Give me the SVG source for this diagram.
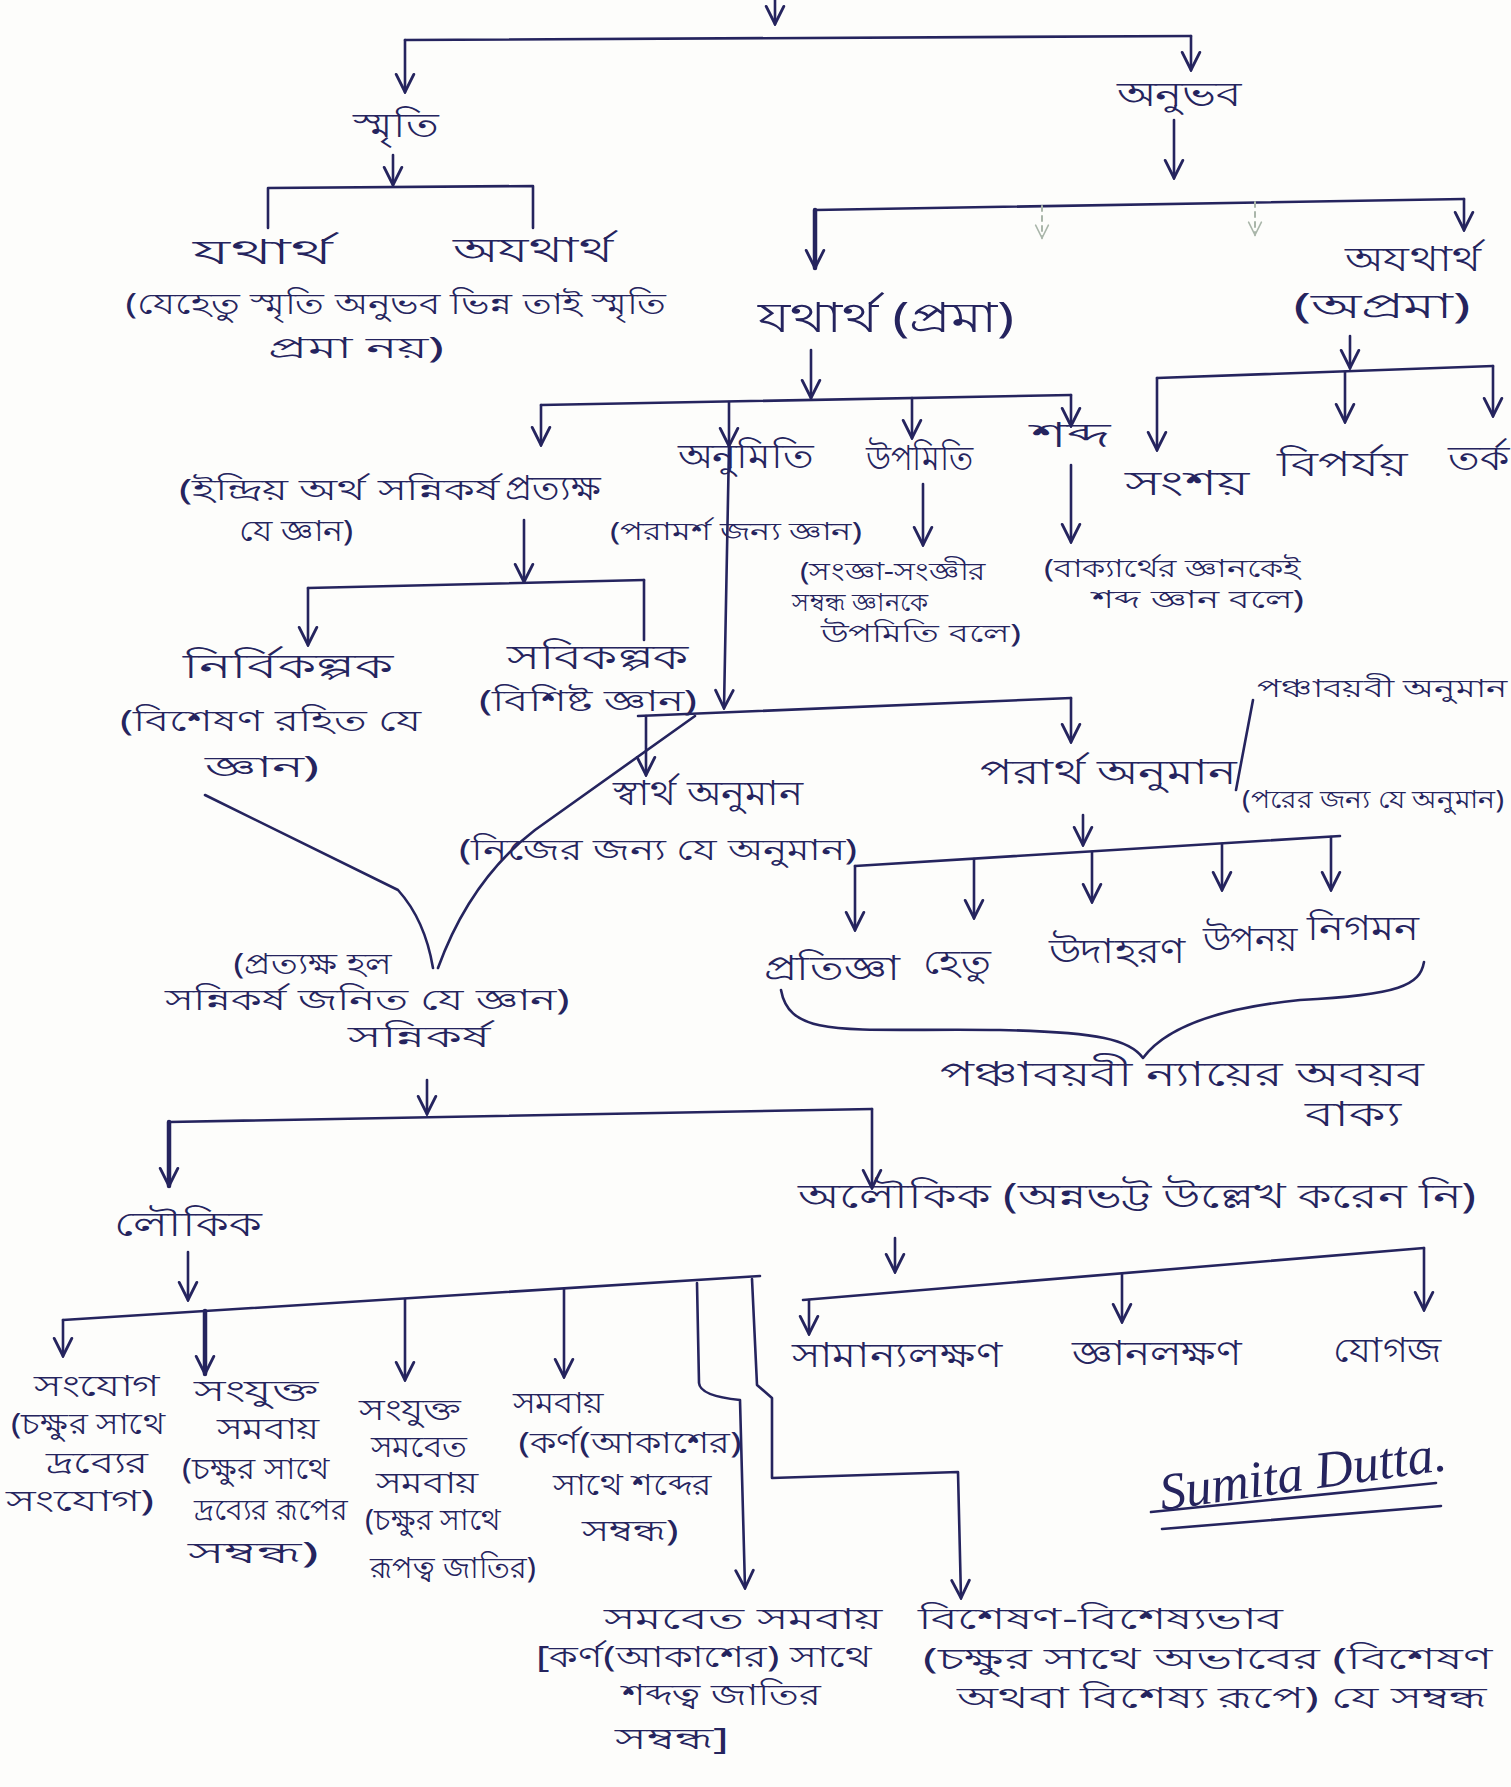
<svg xmlns="http://www.w3.org/2000/svg" width="1511" height="1787" viewBox="0 0 1511 1787">
<style>
text{font-family:"Noto Sans","DejaVu Sans",sans-serif;fill:#25245e;text-anchor:middle}
.t{font-size:34px}
.b{font-size:42px}
.n{font-size:29px}
.m{font-size:25px}
.s{font-size:25px}
.sig{font-family:"Liberation Serif",serif;font-style:italic;font-size:52px}
.c path,.c line{stroke:#25245e;stroke-width:2.6;fill:none;stroke-linecap:round;stroke-linejoin:round}
.c .a{marker-end:url(#ah)}
.c .w{stroke-width:4.5}
.c .f{stroke:#aab6aa;stroke-dasharray:5 5;stroke-width:2}
</style>
<defs>
<marker id="ah" viewBox="0 0 20 20" refX="18" refY="10" markerWidth="22" markerHeight="22" markerUnits="userSpaceOnUse" orient="auto">
<path d="M2,2 L18,10 L2,18" fill="none" stroke="#25245e" stroke-width="2.6" stroke-linecap="round"/>
</marker>
<marker id="af" viewBox="0 0 20 20" refX="18" refY="10" markerWidth="16" markerHeight="16" markerUnits="userSpaceOnUse" orient="auto">
<path d="M2,2 L18,10 L2,18" fill="none" stroke="#aab6aa" stroke-width="2" stroke-linecap="round"/>
</marker>
</defs>
<rect width="1511" height="1787" fill="#fdfdfb"/>
<g class="c" id="connectors">
<line class="a" x1="775" y1="0" x2="775" y2="24"/>
<line x1="405" y1="40" x2="1191" y2="36"/>
<line class="a" x1="405" y1="40" x2="405" y2="92"/>
<line class="a" x1="1191" y1="36" x2="1191" y2="70"/>
<line class="a" x1="393" y1="155" x2="393" y2="185"/>
<path d="M268,228 L268,188 L533,186 L533,228"/>
<line class="a" x1="1174" y1="120" x2="1174" y2="178"/>
<line x1="815" y1="210" x2="1464" y2="199"/>
<line class="a w" x1="815" y1="210" x2="815" y2="268"/>
<line class="f" x1="1042" y1="206" x2="1042" y2="238" marker-end="url(#af)"/>
<line class="f" x1="1255" y1="202" x2="1255" y2="235" marker-end="url(#af)"/>
<line class="a" x1="1464" y1="199" x2="1464" y2="230"/>
<line class="a" x1="811" y1="350" x2="811" y2="398"/>
<line x1="541" y1="405" x2="1071" y2="395"/>
<line class="a" x1="541" y1="405" x2="541" y2="445"/>
<line class="a" x1="729" y1="402" x2="729" y2="446"/>
<line class="a" x1="912" y1="398" x2="912" y2="438"/>
<line class="a" x1="1071" y1="395" x2="1071" y2="426"/>
<line class="a" x1="729" y1="446" x2="724" y2="708"/>
<line class="a" x1="1350" y1="336" x2="1350" y2="368"/>
<line x1="1157" y1="378" x2="1493" y2="366"/>
<line class="a" x1="1157" y1="378" x2="1157" y2="450"/>
<line class="a" x1="1345" y1="372" x2="1345" y2="422"/>
<line class="a" x1="1493" y1="366" x2="1493" y2="416"/>
<line class="a" x1="923" y1="484" x2="923" y2="545"/>
<line class="a" x1="1071" y1="465" x2="1071" y2="542"/>
<line class="a" x1="524" y1="520" x2="524" y2="582"/>
<line x1="308" y1="588" x2="644" y2="580"/>
<line class="a" x1="308" y1="588" x2="308" y2="645"/>
<line x1="644" y1="580" x2="644" y2="640"/>
<line x1="638" y1="716" x2="1071" y2="698"/>
<line class="a" x1="646" y1="716" x2="646" y2="775"/>
<line class="a" x1="1071" y1="698" x2="1071" y2="742"/>
<path d="M205,795 L398,890 Q425,920 433,968"/>
<path d="M695,716 L535,830 Q470,880 438,968"/>
<line x1="1236" y1="790" x2="1253" y2="700"/>
<line class="a" x1="1083" y1="815" x2="1083" y2="845"/>
<line x1="855" y1="866" x2="1340" y2="836"/>
<line class="a" x1="855" y1="866" x2="855" y2="930"/>
<line class="a" x1="974" y1="859" x2="974" y2="918"/>
<line class="a" x1="1092" y1="852" x2="1092" y2="902"/>
<line class="a" x1="1222" y1="844" x2="1222" y2="890"/>
<line class="a" x1="1331" y1="837" x2="1331" y2="890"/>
<path d="M781,990 C790,1040 850,1028 1000,1030 C1100,1032 1130,1040 1143,1058 C1160,1035 1200,1010 1300,1000 C1400,995 1420,985 1424,962"/>
<line class="a" x1="427" y1="1080" x2="427" y2="1114"/>
<line x1="169" y1="1122" x2="872" y2="1109"/>
<line class="a w" x1="169" y1="1122" x2="169" y2="1186"/>
<line class="a" x1="872" y1="1109" x2="872" y2="1188"/>
<line class="a" x1="188" y1="1252" x2="188" y2="1300"/>
<line x1="63" y1="1320" x2="760" y2="1276"/>
<line class="a" x1="63" y1="1320" x2="63" y2="1356"/>
<line class="a w" x1="205" y1="1311" x2="205" y2="1374"/>
<line class="a" x1="405" y1="1299" x2="405" y2="1380"/>
<line class="a" x1="564" y1="1289" x2="564" y2="1377"/>
<path class="a" d="M697,1283 L699,1383 Q700,1396 740,1400 L745,1588"/>
<path class="a" d="M752,1279 L757,1385 L772,1398 L772,1478 L958,1472 L961,1598"/>
<line class="a" x1="895" y1="1238" x2="895" y2="1272"/>
<line x1="803" y1="1300" x2="1424" y2="1248"/>
<line class="a" x1="809" y1="1300" x2="809" y2="1334"/>
<line class="a" x1="1122" y1="1274" x2="1122" y2="1322"/>
<line class="a" x1="1424" y1="1248" x2="1424" y2="1310"/>
<line x1="1151" y1="1512" x2="1436" y2="1483"/>
<line x1="1162" y1="1529" x2="1441" y2="1506"/>
</g>
<g id="smriti"><text class="t" x="396" y="137" textLength="86" lengthAdjust="spacingAndGlyphs">স্মৃতি</text></g>
<g id="anubhav"><text class="t" x="1179" y="106" textLength="125" lengthAdjust="spacingAndGlyphs">অনুভব</text></g>
<g id="smriti-yathartha"><text class="t" x="263" y="264" textLength="140" lengthAdjust="spacingAndGlyphs">যথার্থ</text></g>
<g id="smriti-ayathartha"><text class="t" x="533" y="262" textLength="160" lengthAdjust="spacingAndGlyphs">অযথার্থ</text></g>
<g id="smriti-note"><text class="n" x="396" y="314" textLength="541" lengthAdjust="spacingAndGlyphs">(যেহেতু স্মৃতি অনুভব ভিন্ন তাই স্মৃতি</text><text class="n" x="356" y="358" textLength="176" lengthAdjust="spacingAndGlyphs">প্রমা নয়)</text></g>
<g id="yathartha-prama"><text class="b" x="886" y="332" textLength="256" lengthAdjust="spacingAndGlyphs">যথার্থ (প্রমা)</text></g>
<g id="ayathartha-aprama"><text class="t" x="1413" y="271" textLength="136" lengthAdjust="spacingAndGlyphs">অযথার্থ</text><text class="t" x="1382" y="318" textLength="177" lengthAdjust="spacingAndGlyphs">(অপ্রমা)</text></g>
<g id="pratyaksha"><text class="n" x="339" y="500" textLength="320" lengthAdjust="spacingAndGlyphs">(ইন্দ্রিয় অর্থ সন্নিকর্ষ</text><text class="t" x="553" y="500" textLength="96" lengthAdjust="spacingAndGlyphs">প্রত্যক্ষ</text><text class="n" x="296" y="541" textLength="114" lengthAdjust="spacingAndGlyphs">যে জ্ঞান)</text></g>
<g id="anumiti"><text class="t" x="746" y="468" textLength="137" lengthAdjust="spacingAndGlyphs">অনুমিতি</text><text class="m" x="736" y="540" textLength="252" lengthAdjust="spacingAndGlyphs">(পরামর্শ জন্য জ্ঞান)</text></g>
<g id="upamiti"><text class="t" x="920" y="470" textLength="108" lengthAdjust="spacingAndGlyphs">উপমিতি</text><text class="m" x="893" y="580" textLength="186" lengthAdjust="spacingAndGlyphs">(সংজ্ঞা-সংজ্ঞীর</text><text class="m" x="860" y="611" textLength="136" lengthAdjust="spacingAndGlyphs">সম্বন্ধ জ্ঞানকে</text><text class="m" x="921" y="642" textLength="200" lengthAdjust="spacingAndGlyphs">উপমিতি বলে)</text></g>
<g id="shabda"><text class="t" x="1071" y="447" textLength="80" lengthAdjust="spacingAndGlyphs">শব্দ</text><text class="m" x="1172" y="577" textLength="256" lengthAdjust="spacingAndGlyphs">(বাক্যার্থের জ্ঞানকেই</text><text class="m" x="1198" y="608" textLength="212" lengthAdjust="spacingAndGlyphs">শব্দ জ্ঞান বলে)</text></g>
<g id="samshay"><text class="t" x="1187" y="495" textLength="124" lengthAdjust="spacingAndGlyphs">সংশয়</text></g>
<g id="viparyaya"><text class="t" x="1342" y="476" textLength="131" lengthAdjust="spacingAndGlyphs">বিপর্যয়</text></g>
<g id="tarka"><text class="t" x="1479" y="470" textLength="62" lengthAdjust="spacingAndGlyphs">তর্ক</text></g>
<g id="nirvikalpaka"><text class="t" x="288" y="678" textLength="211" lengthAdjust="spacingAndGlyphs">নির্বিকল্পক</text><text class="n" x="271" y="731" textLength="302" lengthAdjust="spacingAndGlyphs">(বিশেষণ রহিত যে</text><text class="n" x="262" y="777" textLength="114" lengthAdjust="spacingAndGlyphs">জ্ঞান)</text></g>
<g id="savikalpaka"><text class="t" x="598" y="669" textLength="182" lengthAdjust="spacingAndGlyphs">সবিকল্পক</text><text class="n" x="588" y="711" textLength="218" lengthAdjust="spacingAndGlyphs">(বিশিষ্ট জ্ঞান)</text></g>
<g id="svartha"><text class="t" x="708" y="805" textLength="190" lengthAdjust="spacingAndGlyphs">স্বার্থ অনুমান</text><text class="n" x="658" y="860" textLength="398" lengthAdjust="spacingAndGlyphs">(নিজের জন্য যে অনুমান)</text></g>
<g id="parartha"><text class="t" x="1108" y="784" textLength="256" lengthAdjust="spacingAndGlyphs">পরার্থ অনুমান</text><text class="s" x="1382" y="697" textLength="250" lengthAdjust="spacingAndGlyphs">পঞ্চাবয়বী অনুমান</text><text class="s" x="1373" y="808" textLength="262" lengthAdjust="spacingAndGlyphs">(পরের জন্য যে অনুমান)</text></g>
<g id="pratijna"><text class="t" x="832" y="980" textLength="137" lengthAdjust="spacingAndGlyphs">প্রতিজ্ঞা</text></g>
<g id="hetu"><text class="t" x="957" y="974" textLength="68" lengthAdjust="spacingAndGlyphs">হেতু</text></g>
<g id="udaharana"><text class="t" x="1117" y="963" textLength="137" lengthAdjust="spacingAndGlyphs">উদাহরণ</text></g>
<g id="upanaya"><text class="t" x="1250" y="951" textLength="95" lengthAdjust="spacingAndGlyphs">উপনয়</text></g>
<g id="nigamana"><text class="t" x="1363" y="940" textLength="112" lengthAdjust="spacingAndGlyphs">নিগমন</text></g>
<g id="panchavayavi"><text class="t" x="1182" y="1086" textLength="484" lengthAdjust="spacingAndGlyphs">পঞ্চাবয়বী ন্যায়ের অবয়ব</text><text class="t" x="1353" y="1126" textLength="97" lengthAdjust="spacingAndGlyphs">বাক্য</text></g>
<g id="sannikarsha"><text class="n" x="313" y="974" textLength="159" lengthAdjust="spacingAndGlyphs">(প্রত্যক্ষ হল</text><text class="n" x="367" y="1010" textLength="405" lengthAdjust="spacingAndGlyphs">সন্নিকর্ষ জনিত যে জ্ঞান)</text><text class="n" x="419" y="1047" textLength="142" lengthAdjust="spacingAndGlyphs">সন্নিকর্ষ</text></g>
<g id="laukika"><text class="t" x="188" y="1236" textLength="148" lengthAdjust="spacingAndGlyphs">লৌকিক</text></g>
<g id="alaukika"><text class="t" x="1137" y="1208" textLength="678" lengthAdjust="spacingAndGlyphs">অলৌকিক (অন্নভট্ট উল্লেখ করেন নি)</text></g>
<g id="samanyalakshana"><text class="t" x="897" y="1367" textLength="211" lengthAdjust="spacingAndGlyphs">সামান্যলক্ষণ</text></g>
<g id="jnanalakshana"><text class="t" x="1157" y="1365" textLength="171" lengthAdjust="spacingAndGlyphs">জ্ঞানলক্ষণ</text></g>
<g id="yogaja"><text class="t" x="1387" y="1362" textLength="108" lengthAdjust="spacingAndGlyphs">যোগজ</text></g>
<g id="samyoga"><text class="n" x="97" y="1396" textLength="126" lengthAdjust="spacingAndGlyphs">সংযোগ</text><text class="n" x="88" y="1434" textLength="154" lengthAdjust="spacingAndGlyphs">(চক্ষুর সাথে</text><text class="n" x="97" y="1473" textLength="102" lengthAdjust="spacingAndGlyphs">দ্রব্যের</text><text class="n" x="80" y="1511" textLength="148" lengthAdjust="spacingAndGlyphs">সংযোগ)</text></g>
<g id="samyukta-samavaya"><text class="n" x="256" y="1401" textLength="125" lengthAdjust="spacingAndGlyphs">সংযুক্ত</text><text class="n" x="268" y="1439" textLength="103" lengthAdjust="spacingAndGlyphs">সমবায়</text><text class="n" x="256" y="1479" textLength="148" lengthAdjust="spacingAndGlyphs">(চক্ষুর সাথে</text><text class="n" x="271" y="1520" textLength="154" lengthAdjust="spacingAndGlyphs">দ্রব্যের রূপের</text><text class="n" x="253" y="1563" textLength="131" lengthAdjust="spacingAndGlyphs">সম্বন্ধ)</text></g>
<g id="samyukta-samaveta-samavaya"><text class="n" x="410" y="1420" textLength="102" lengthAdjust="spacingAndGlyphs">সংযুক্ত</text><text class="n" x="419" y="1457" textLength="97" lengthAdjust="spacingAndGlyphs">সমবেত</text><text class="n" x="427" y="1493" textLength="103" lengthAdjust="spacingAndGlyphs">সমবায়</text><text class="n" x="433" y="1530" textLength="136" lengthAdjust="spacingAndGlyphs">(চক্ষুর সাথে</text><text class="n" x="453" y="1578" textLength="166" lengthAdjust="spacingAndGlyphs">রূপত্ব জাতির)</text></g>
<g id="samavaya"><text class="n" x="558" y="1413" textLength="91" lengthAdjust="spacingAndGlyphs">সমবায়</text><text class="n" x="630" y="1453" textLength="223" lengthAdjust="spacingAndGlyphs">(কর্ণ(আকাশের)</text><text class="n" x="632" y="1495" textLength="159" lengthAdjust="spacingAndGlyphs">সাথে শব্দের</text><text class="n" x="630" y="1541" textLength="97" lengthAdjust="spacingAndGlyphs">সম্বন্ধ)</text></g>
<g id="samaveta-samavaya"><text class="n" x="743" y="1629" textLength="279" lengthAdjust="spacingAndGlyphs">সমবেত সমবায়</text><text class="n" x="704" y="1667" textLength="336" lengthAdjust="spacingAndGlyphs">[কর্ণ(আকাশের) সাথে</text><text class="n" x="721" y="1705" textLength="199" lengthAdjust="spacingAndGlyphs">শব্দত্ব জাতির</text><text class="n" x="672" y="1749" textLength="114" lengthAdjust="spacingAndGlyphs">সম্বন্ধ]</text></g>
<g id="visheshana-visheshyabhava"><text class="n" x="1100" y="1629" textLength="365" lengthAdjust="spacingAndGlyphs">বিশেষণ-বিশেষ্যভাব</text><text class="n" x="1208" y="1669" textLength="570" lengthAdjust="spacingAndGlyphs">(চক্ষুর সাথে অভাবের (বিশেষণ</text><text class="n" x="1222" y="1708" textLength="530" lengthAdjust="spacingAndGlyphs">অথবা বিশেষ্য রূপে) যে সম্বন্ধ</text></g>
<g id="signature"><text class="sig" x="1305" y="1490" transform="rotate(-8 1305 1490)">Sumita Dutta.</text></g>
</svg>
